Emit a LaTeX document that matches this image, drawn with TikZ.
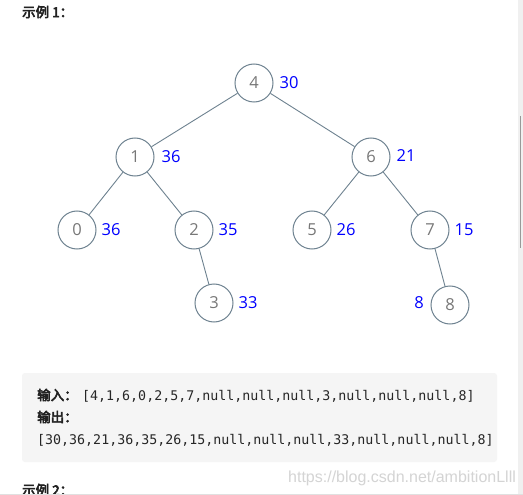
\documentclass[tikz,border=0pt]{standalone}
\usepackage{fontspec}
\setmainfont{Open Sans}
\newfontfamily\cjkb[FakeBold=4]{Noto Sans CJK SC}
\newfontfamily\monof{DejaVu Sans Mono}
\newfontfamily\wmf{Liberation Sans}
\definecolor{edgec}{HTML}{6E8290}
\definecolor{numc}{HTML}{777777}
\definecolor{boxc}{HTML}{F5F5F5}
\definecolor{wmc}{HTML}{D4D4D4}
\definecolor{headc}{HTML}{222222}
\tikzset{
  tnode/.style={circle, draw=edgec, line width=1pt, minimum size=38pt, inner sep=0pt, text=numc, font=\fontsize{16.5}{16.5}\selectfont, fill=white},
  tedge/.style={draw=edgec, line width=0.9pt},
  sumlab/.style={text=blue, font=\fontsize{16.5}{16.5}\selectfont, inner sep=0pt},
  head/.style={font=\cjkb\fontsize{13.5}{13.5}\selectfont, inner sep=0pt, anchor=west, text=headc},
  mono/.style={font=\monof\fontsize{13.3}{13.3}\selectfont, inner sep=0pt, anchor=west, text=black!85}
}
\begin{document}
\begin{tikzpicture}[x=1pt,y=-1pt]
\useasboundingbox (0,0) rectangle (523,495);
\fill[white] (0,0) rectangle (523,495);
% right strip / scrollbar
\fill[black!6] (518,0) rectangle (523,495);
\draw[black!40, line width=0.8pt] (520,116) -- (520,248);
\node[head] (h1) at (22,12) {示例 1：};
% tree
\node[tnode] (n4) at (254,83) {4};
\node[tnode] (n1) at (135,157) {1};
\node[tnode] (n6) at (371,157) {6};
\node[tnode] (n0) at (77,230) {0};
\node[tnode] (n2) at (194,230) {2};
\node[tnode] (n5) at (312,230) {5};
\node[tnode] (n7) at (430,230) {7};
\node[tnode] (n3) at (214,303) {3};
\node[tnode] (n8) at (450,305) {8};
\draw[tedge] (n4) -- (n1);
\draw[tedge] (n4) -- (n6);
\draw[tedge] (n1) -- (n0);
\draw[tedge] (n1) -- (n2);
\draw[tedge] (n6) -- (n5);
\draw[tedge] (n6) -- (n7);
\draw[tedge] (n2) -- (n3);
\draw[tedge] (n7) -- (n8);
\node[sumlab] (s4) at (289,83) {30};
\node[sumlab] (s1) at (171,157) {36};
\node[sumlab] (s6) at (406,156) {21};
\node[sumlab] (s0) at (111,230) {36};
\node[sumlab] (s2) at (228,230) {35};
\node[sumlab] (s5) at (346,230) {26};
\node[sumlab] (s7) at (464,230) {15};
\node[sumlab] (s3) at (248,303) {33};
\node[sumlab] (s8) at (419,303) {8};
% example box
\fill[boxc, rounded corners=3pt] (22,373) rectangle (497,462);
\node[head] (in) at (37,395) {输入：};
\node[mono] (inv) at (82,396) {[4,1,6,0,2,5,7,null,null,null,3,null,null,null,8]};
\node[head] (out) at (37,417) {输出：};
\node[mono] (outv) at (37,440) {[30,36,21,36,35,26,15,null,null,null,33,null,null,null,8]};
% watermark
\node[anchor=west, inner sep=0pt, text=wmc, font=\wmf\fontsize{16}{16}\selectfont] (wm) at (288,478) {https://blog.csdn.net/ambitionLlll};
\node[head] (h2) at (22,490) {示例 2：};
\draw[black!12, line width=1pt] (0,494.5) -- (523,494.5);
\end{tikzpicture}
\end{document}
